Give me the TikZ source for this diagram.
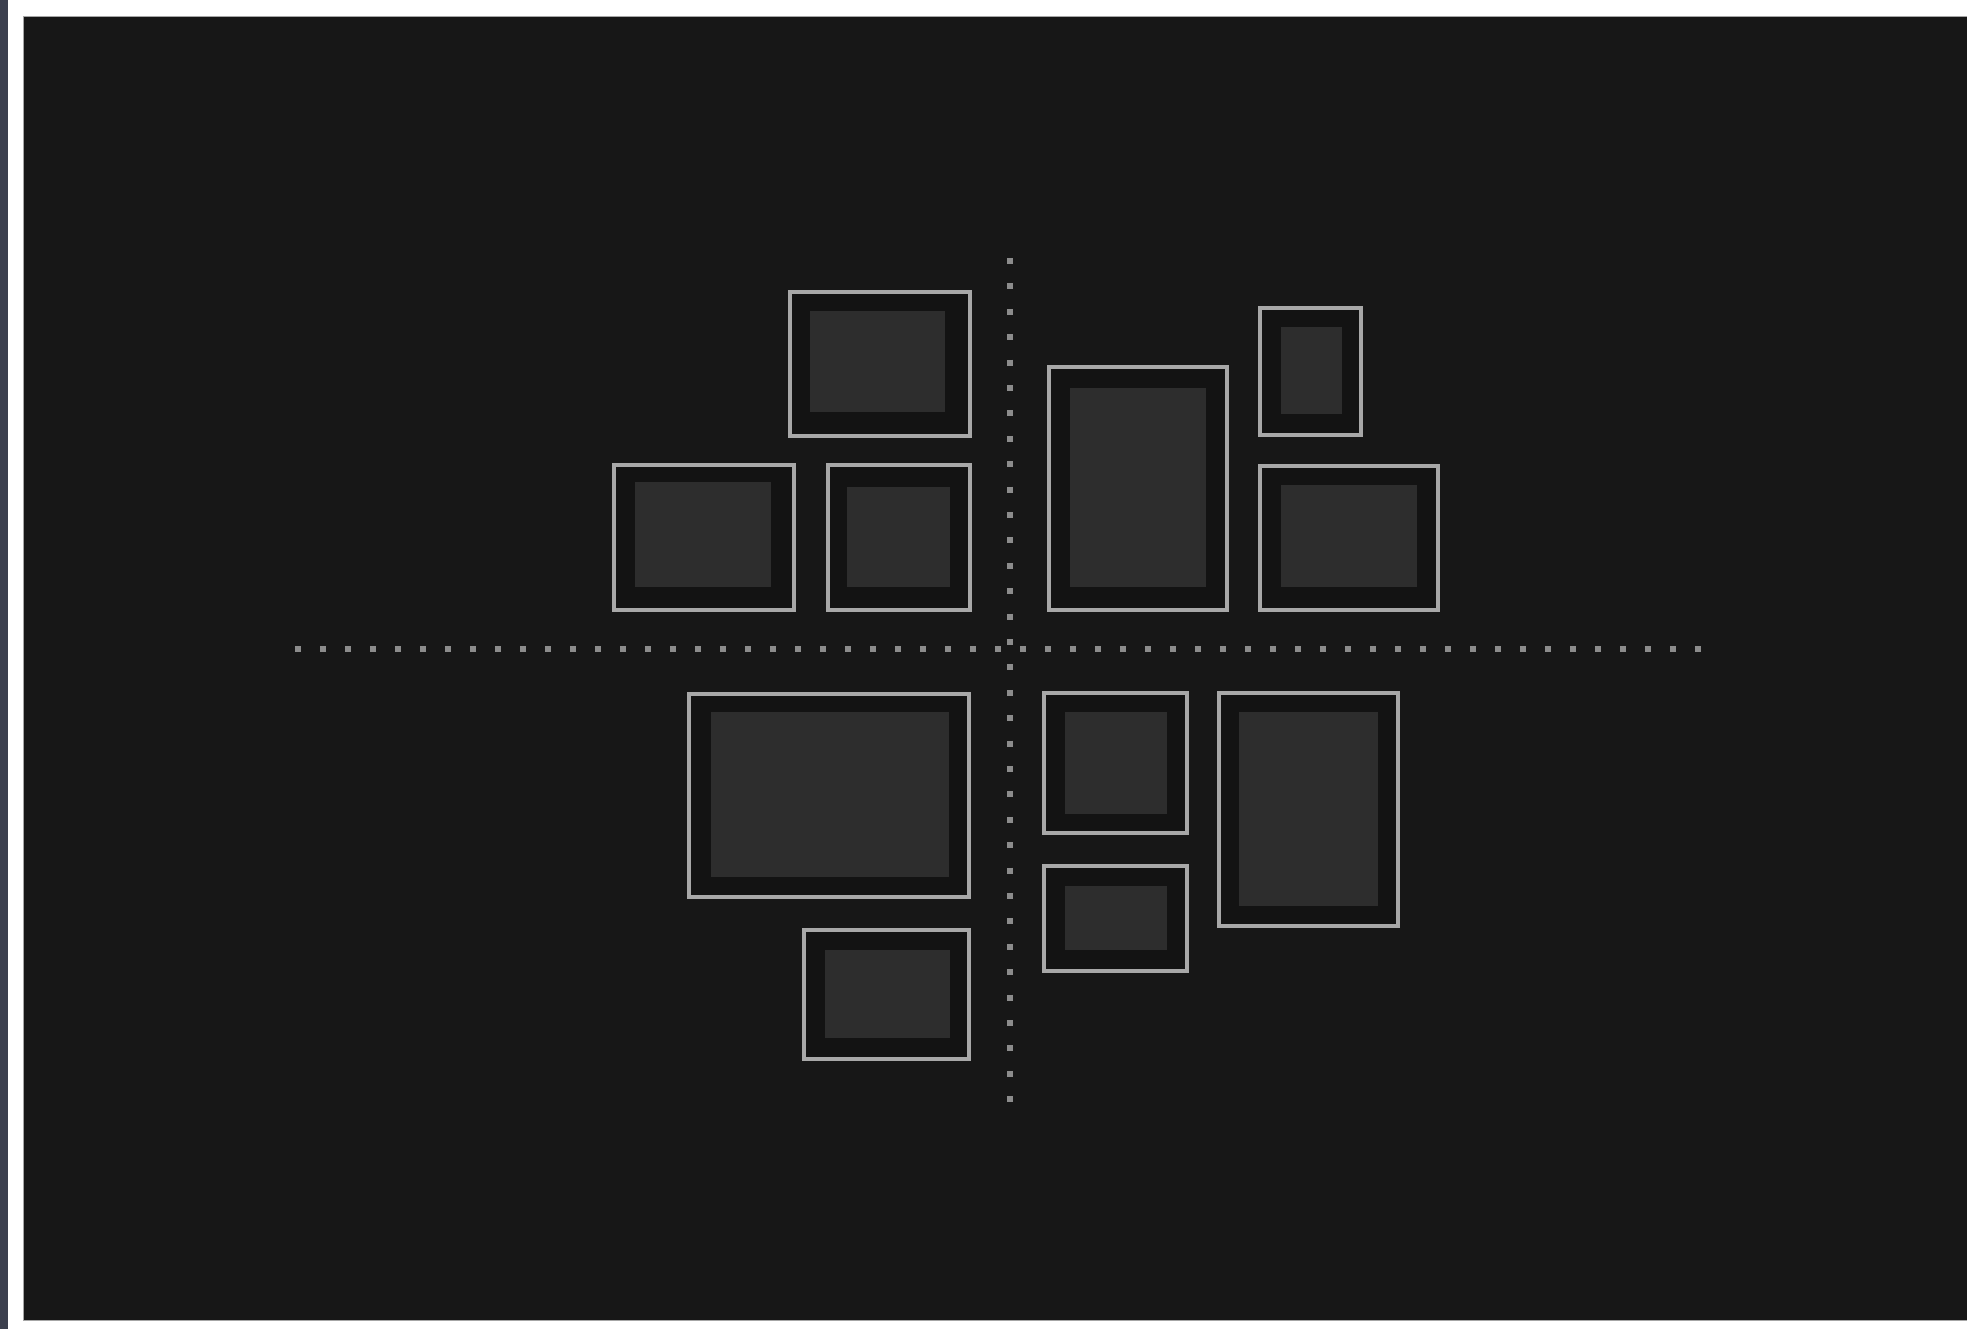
\documentclass[tikz,border=0pt]{standalone}
\usepackage{tikz}
\usetikzlibrary{positioning,calc}
\definecolor{wallgray}{RGB}{23,23,23}
\definecolor{mattegray}{RGB}{19,19,19}
\definecolor{photogray}{RGB}{45,45,45}
\definecolor{framegray}{RGB}{168,168,168}
\definecolor{dotgray}{RGB}{140,140,140}
\definecolor{sidebar}{RGB}{60,64,78}
\tikzset{
  frame/.style={draw=framegray, line width=2.3pt, fill=mattegray},
  photo/.style={fill=photogray},
  guide/.style={draw=dotgray, line width=3pt, dash pattern=on 3pt off #1},
  guide/.default=9.5pt
}

\begin{document}
\begin{tikzpicture}[x=0.5pt,y=-0.5pt]
\useasboundingbox (0,0) rectangle (1967,1329);
\fill[white] (0,0) rectangle (1967,1329);
\fill[sidebar] (0,0) rectangle (8,1329);
\fill[wallgray] (23,16) rectangle (1967,1320);
\draw[gray!70, line width=0.5pt] (1967,16) -- (23,16) -- (23,1320) -- (1967,1320);

% guide lines
\coordinate (vtop) at (1010,258);
\coordinate (vbot) at (1010,1102);
\coordinate (hleft) at (295,649);
\coordinate (hright) at (1704,649);
\draw[guide=9.7pt] (vtop) -- (vbot);
\draw[guide] (hleft) -- (hright);

% upper left
\draw[frame] (790,292) rectangle (970,436);
\fill[photo] (810,311) rectangle (945,412);
\draw[frame] (614,465) rectangle (794,610);
\fill[photo] (635,482) rectangle (771,587);
\draw[frame] (828,465) rectangle (970,610);
\fill[photo] (847,487) rectangle (950,587);

% upper right
\draw[frame] (1049,367) rectangle (1227,610);
\fill[photo] (1070,388) rectangle (1206,587);
\draw[frame] (1260,308) rectangle (1361,435);
\fill[photo] (1281,327) rectangle (1342,414);
\draw[frame] (1260,466) rectangle (1438,610);
\fill[photo] (1281,485) rectangle (1417,587);

% lower left
\draw[frame] (689,694) rectangle (969,897);
\fill[photo] (711,712) rectangle (949,877);
\draw[frame] (804,930) rectangle (969,1059);
\fill[photo] (825,950) rectangle (950,1038);

% lower right
\draw[frame] (1044,693) rectangle (1187,833);
\fill[photo] (1065,712) rectangle (1167,814);
\draw[frame] (1044,866) rectangle (1187,971);
\fill[photo] (1065,886) rectangle (1167,950);
\draw[frame] (1219,693) rectangle (1398,926);
\fill[photo] (1239,712) rectangle (1378,906);
\end{tikzpicture}
\end{document}
